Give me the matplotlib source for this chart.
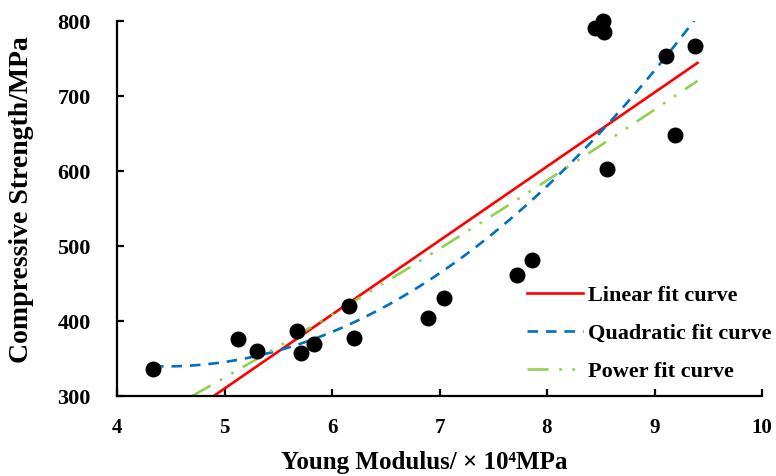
import numpy as np
import matplotlib
matplotlib.use("Agg")
import matplotlib.pyplot as plt

plt.rcParams['font.family'] = ['Liberation Serif', 'DejaVu Serif']
plt.rcParams['font.weight'] = 'bold'

# Data points (Young modulus x1e4 MPa, compressive strength MPa)
young = [4.335, 5.126, 5.30, 5.67, 5.71, 5.83, 6.16, 6.20, 6.89, 7.04,
         7.72, 7.86, 8.45, 8.52, 8.53, 8.56, 9.11, 9.19, 9.38]
strength = [336, 376, 360, 387, 357, 369, 420, 377, 404, 431,
            461, 481, 791, 800, 785, 603, 753, 648, 767]

# Fit coefficients
lin_coef = [98.7, -183.6]              # y = a*x + b
quad_coef = [19.02, -169.1, 715.3]     # y = a*x^2 + b*x + c
pow_coef = [42.5, 1.263]               # y = a*x^b
lin_range = [4.90, 9.40]
quad_range = [4.335, 9.38]
pow_range = [4.70, 9.40]

W, H = 776, 476
fig = plt.figure(figsize=(W / 100, H / 100), dpi=100)
ax = fig.add_axes([117 / W, 1 - 396 / H, 645 / W, 375 / H])

ax.scatter(young, strength, s=110, color='black', zorder=3, clip_on=False)

xl = np.linspace(*lin_range, 100)
ax.plot(xl, np.polyval(lin_coef, xl), color='#ff0000', lw=1.9, label='Linear fit curve', zorder=2)
xq = np.linspace(*quad_range, 200)
ax.plot(xq, np.polyval(quad_coef, xq), color='#0070c0', lw=1.9, ls=(0, (4, 3)),
        label='Quadratic fit curve', zorder=2)
xp = np.linspace(*pow_range, 200)
ax.plot(xp, pow_coef[0] * xp ** pow_coef[1], color='#92d050', lw=1.9,
        ls=(0, (8, 4, 1, 4, 1, 4)), label='Power fit curve', zorder=2)

ax.set_xlim(4, 10)
ax.set_ylim(300, 800)
ax.set_xticks([4, 5, 6, 7, 8, 9, 10])
ax.set_yticks([300, 400, 500, 600, 700, 800])
ax.spines['top'].set_visible(False)
ax.spines['right'].set_visible(False)
for s in ['left', 'bottom']:
    ax.spines[s].set_linewidth(1.6)
ax.tick_params(direction='in', length=5, width=1.6)
ax.tick_params(axis='x', labelsize=15, pad=16)
ax.tick_params(axis='y', labelsize=16, pad=19)
for lab in ax.get_xticklabels() + ax.get_yticklabels():
    lab.set_fontweight('bold')

ax.set_xlabel('Young Modulus/ × 10⁴MPa', fontsize=18, fontweight='bold')
ax.xaxis.set_label_coords(0.476, -0.148)
fig.text(22 / W, 1 - 200 / H, 'Compressive Strength/MPa', fontsize=20, fontweight='bold',
         rotation=90, ha='center', va='center')

leg = ax.legend(loc='upper left', bbox_to_anchor=(527 / W, 1 - 285 / H),
                bbox_transform=fig.transFigure, frameon=False, borderpad=0, borderaxespad=0,
                prop={'family': 'Liberation Serif', 'weight': 'bold', 'size': 16},
                handlelength=2.5, handletextpad=0.25, labelspacing=0.8)

fig.savefig('out.png', dpi=100)
